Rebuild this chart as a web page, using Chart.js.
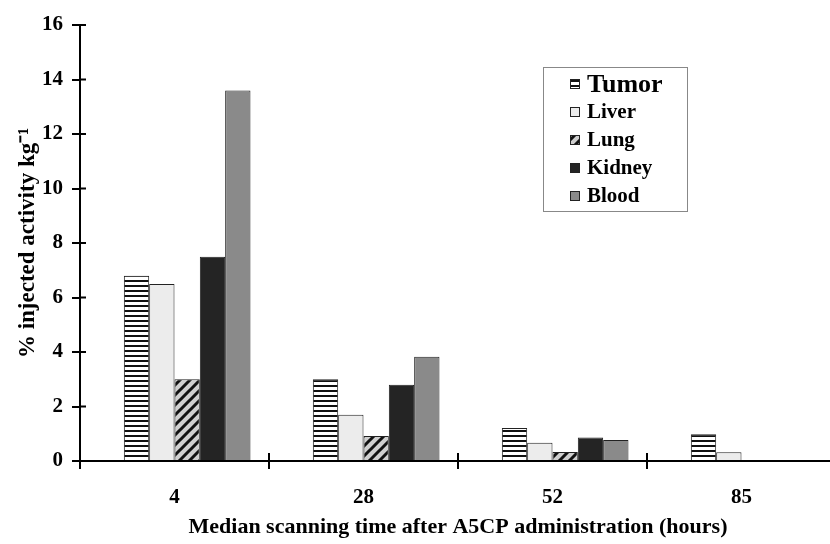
<!DOCTYPE html>
<html>
<head>
<meta charset="utf-8">
<script src="https://cdn.jsdelivr.net/npm/chart.js@4"></script>
<style>
  html, body { margin: 0; padding: 0; background: #fff; overflow: hidden; }
  #wrap { width: 830px; height: 544px; overflow: hidden; }
</style>
</head>
<body>
<div id="wrap"><canvas id="chart" width="836" height="544"></canvas></div>
<script>
const categories = ['4', '28', '52', '85'];
const tumor  = [6.8, 3.0, 1.21, 0.98];
const liver  = [6.5, 1.7, 0.67, 0.32];
const lung   = [3.0, 0.92, 0.33, null];
const kidney = [7.5, 2.8, 0.86, null];
const blood  = [13.6, 3.83, 0.77, null];
// empty series in front, keeps the groups shifted right like the original
const spacer = [null, null, null, null];

const serif = "'Liberation Serif', 'Times New Roman', serif";

function makePattern(size, drawFn) {
    const c = document.createElement('canvas');
    c.width = size; c.height = size;
    const g = c.getContext('2d');
    drawFn(g, size);
    return g.createPattern(c, 'repeat');
}

const stripes = makePattern(5, (g, s) => {
    g.fillStyle = '#fff';
    g.fillRect(0, 0, s, s);
    g.fillStyle = '#111';
    g.fillRect(0, 0, s, 2);
});

const hatch = makePattern(10, (g, s) => {
    g.fillStyle = '#cfcfcf';
    g.fillRect(0, 0, s, s);
    g.strokeStyle = '#111';
    g.lineWidth = 3;
    g.beginPath();
    g.moveTo(-5, 5); g.lineTo(5, -5);
    g.moveTo(0, 10); g.lineTo(10, 0);
    g.moveTo(5, 15); g.lineTo(15, 5);
    g.stroke();
});

function series(label, data, fill) {
    return { label: label, data: data, backgroundColor: fill, borderColor: '#222', borderWidth: 1 };
}

const datasets = [
    series('', spacer, 'rgba(0,0,0,0)'),
    series('Tumor', tumor, stripes),
    series('Liver', liver, '#ececec'),
    series('Lung', lung, hatch),
    series('Kidney', kidney, '#242424'),
    series('Blood', blood, '#8a8a8a')
];

// ticks that cross the axes + boxed legend in the upper right
const extras = {
    id: 'extras',
    afterDraw(chart) {
        const ctx = chart.ctx;
        const x = chart.scales.x, y = chart.scales.y;
        ctx.save();
        ctx.strokeStyle = '#000';
        ctx.lineWidth = 2;
        ctx.beginPath();
        y.ticks.forEach(t => {
            const py = y.getPixelForValue(t.value);
            ctx.moveTo(y.right, py); ctx.lineTo(y.right + 6, py);
        });
        const w = x.width / categories.length;
        for (let i = 0; i <= categories.length; i++) {
            const px = x.left + i * w;
            ctx.moveTo(px, x.top); ctx.lineTo(px, x.top - 8);
        }
        ctx.stroke();

        // legend
        ctx.strokeStyle = '#888';
        ctx.lineWidth = 1;
        ctx.strokeRect(543.5, 67.5, 144, 144);
        ctx.textBaseline = 'middle';
        chart.data.datasets.slice(1).forEach((ds, i) => {
            const cy = 84 + i * 28;
            ctx.fillStyle = ds.backgroundColor;
            ctx.fillRect(570, cy - 5, 10, 10);
            ctx.strokeStyle = '#222';
            ctx.strokeRect(570.5, cy - 4.5, 9, 9);
            ctx.fillStyle = '#000';
            ctx.font = 'bold ' + (i === 0 ? 26 : 21) + 'px ' + serif;
            ctx.fillText(ds.label, 587, cy + 1);
        });
        ctx.restore();
    }
};

new Chart(document.getElementById('chart'), {
    type: 'bar',
    data: { labels: categories, datasets: datasets },
    options: {
        responsive: false,
        animation: false,
        layout: { padding: { top: 25, right: 0, left: 0, bottom: 0 } },
        datasets: { bar: { categoryPercentage: 0.804, barPercentage: 1.0 } },
        plugins: { legend: { display: false }, tooltip: { enabled: false } },
        scales: {
            x: {
                afterFit: s => { s.height = 83; },
                grid: { offset: true, drawOnChartArea: false, tickLength: 8, color: '#000', lineWidth: 2 },
                border: { color: '#000', width: 2 },
                ticks: { color: '#000', padding: 16, font: { family: serif, size: 21, weight: 'bold' } },
                title: {
                    display: true,
                    text: 'Median scanning time after A5CP administration (hours)',
                    color: '#000',
                    padding: { top: 0, bottom: 3 },
                    font: { family: serif, size: 22, weight: 'bold' }
                }
            },
            y: {
                min: 0, max: 16,
                afterFit: s => { s.width = 80; },
                grid: { drawOnChartArea: false, tickLength: 8, color: '#000', lineWidth: 2 },
                border: { color: '#000', width: 2 },
                ticks: { stepSize: 2, color: '#000', padding: 9, font: { family: serif, size: 21, weight: 'bold' } },
                title: {
                    display: true,
                    text: '% injected activity kg⁻¹',
                    color: '#000',
                    padding: { top: 14, bottom: 0 },
                    font: { family: serif, size: 23, weight: 'bold' }
                }
            }
        }
    },
    plugins: [extras]
});
</script>
</body>
</html>
